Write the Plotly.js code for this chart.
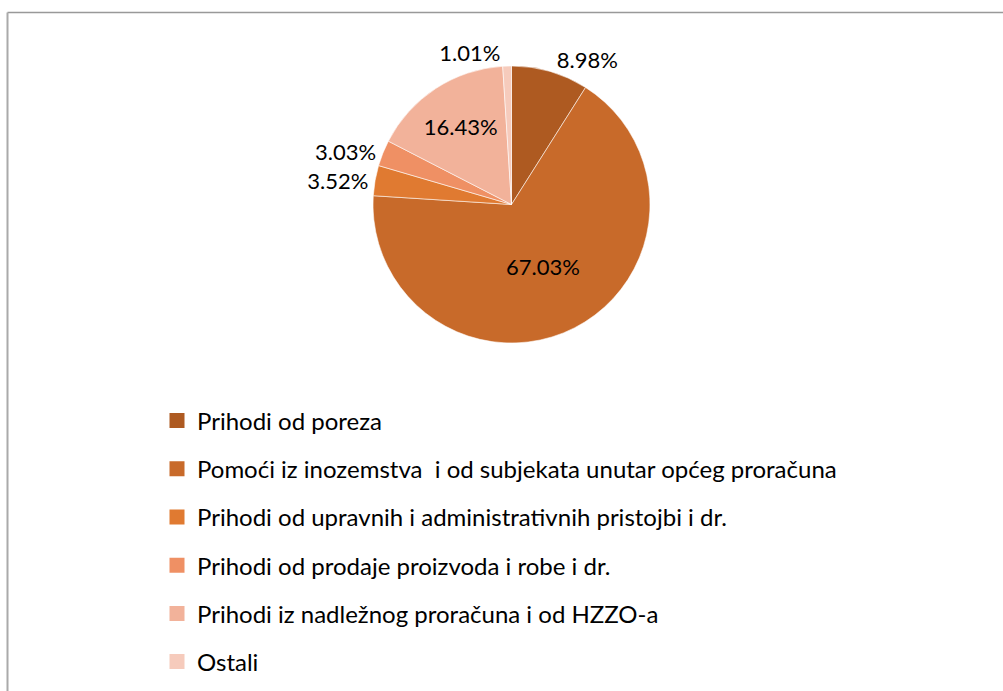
<!DOCTYPE html>
<html>
<head>
<meta charset="utf-8">
<script src="https://cdn.plot.ly/plotly-3.0.1.min.js"></script>
<style>
html,body{margin:0;padding:0;background:#fff;}
#chart{width:1003px;height:691px;}
</style>
</head>
<body>
<div id="chart"></div>
<script>
const categories = [
  "Prihodi od poreza",
  "Pomoći iz inozemstva  i od subjekata unutar općeg proračuna",
  "Prihodi od upravnih i administrativnih pristojbi i dr.",
  "Prihodi od prodaje proizvoda i robe i dr.",
  "Prihodi iz nadležnog proračuna i od HZZO-a",
  "Ostali"
];
const shares = [8.98, 67.03, 3.52, 3.03, 16.43, 1.01];
const colors = ["#AE5A21", "#C86A2A", "#E07A31", "#EF9064", "#F2B29A", "#F6CBBC"];
const labelPositions = ["outside", "inside", "outside", "outside", "inside", "outside"];

const W = 1003, H = 691;
const cx = 511.5, cy = 204.5, r = 138.5;
const fontFam = "Lato, 'Open Sans', sans-serif";

const pie = {
  type: "pie",
  labels: categories,
  values: shares,
  text: shares.map(v => v.toFixed(2) + "%"),
  textinfo: "text",
  textposition: labelPositions,
  insidetextorientation: "horizontal",
  sort: false,
  direction: "clockwise",
  rotation: 0,
  marker: {colors: colors, line: {color: "rgba(255,255,255,0.7)", width: 0.8}},
  textfont: {family: fontFam, size: 22, color: "#000"},
  outsidetextfont: {family: fontFam, size: 22, color: "#000"},
  insidetextfont: {family: fontFam, size: 22, color: "#000"},
  showlegend: false,
  hoverinfo: "label+text",
  domain: {x: [(cx - r) / W, (cx + r) / W], y: [1 - (cy + r) / H, 1 - (cy - r) / H]}
};

const legendTraces = categories.map((c, i) => ({
  type: "scatter",
  mode: "markers",
  x: [null], y: [null],
  name: c,
  legendgroup: "g" + i,
  marker: {symbol: "square", size: 15, color: colors[i]},
  showlegend: true,
  hoverinfo: "skip"
}));

const layout = {
  width: W, height: H,
  margin: {l: 0, r: 0, t: 0, b: 0},
  paper_bgcolor: "#fff",
  plot_bgcolor: "#fff",
  xaxis: {visible: false},
  yaxis: {visible: false},
  showlegend: true,
  legend: {
    x: 157 / W, xanchor: "left",
    y: 1 - 398.5 / H, yanchor: "top",
    orientation: "v",
    font: {family: fontFam, size: 24, color: "#000"},
    tracegroupgap: 14,
    bgcolor: "rgba(0,0,0,0)"
  },
  shapes: [
    {type: "line", xref: "paper", yref: "paper", x0: 7.5 / W, x1: 1, y0: 1 - 12.5 / H, y1: 1 - 12.5 / H, line: {color: "#999", width: 1.5}},
    {type: "line", xref: "paper", yref: "paper", x0: 7.5 / W, x1: 7.5 / W, y0: 1 - 12.5 / H, y1: 0, line: {color: "#aaa", width: 2}}
  ]
};

Plotly.newPlot("chart", [pie].concat(legendTraces), layout, {displayModeBar: false, staticPlot: true});
</script>
</body>
</html>
